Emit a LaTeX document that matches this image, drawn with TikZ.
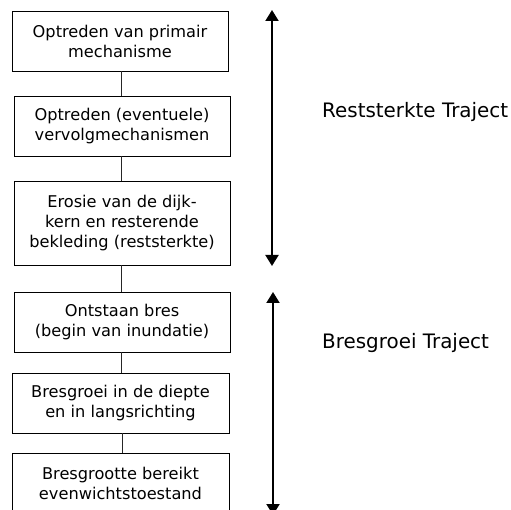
\documentclass[tikz,border=0pt]{standalone}
\usepackage{fontspec}
\setmainfont{DejaVu Sans}
\usetikzlibrary{arrows.meta}
\begin{document}
\begin{tikzpicture}[x=1pt,y=1pt,
  stepbox/.style={draw=black, line width=0.9pt, minimum width=216pt, minimum height=60pt,
    inner sep=0pt, align=center, font=\fontsize{16.2}{20}\selectfont},
  conn/.style={draw=black!85, line width=0.9pt},
  span/.style={line width=2pt, {Triangle[width=13pt,length=11pt]}-{Triangle[width=13pt,length=11pt]}},
  lab/.style={anchor=west, inner sep=0pt, font=\fontsize{19.9}{23}\selectfont}]
\useasboundingbox (0,0) rectangle (511,509);
\node[stepbox] (b1) at (120,468) {Optreden van primair\\mechanisme};
\node[stepbox] (b2) at (122,383) {Optreden (eventuele)\\vervolgmechanismen};
\node[stepbox, minimum height=84pt] (b3) at (122,286) {Erosie van de dijk-\\kern en resterende\\bekleding (reststerkte)};
\node[stepbox] (b4) at (122,187) {Ontstaan bres\\(begin van inundatie)};
\node[stepbox, minimum width=217pt] (b5) at (120.5,106) {Bresgroei in de diepte\\en in langsrichting};
\node[stepbox, minimum width=217pt] (b6) at (120.5,26) {Bresgrootte bereikt\\evenwichtstoestand};
\draw[conn] ([xshift=1pt]b1.south) -- ([xshift=1pt]b1.south |- b2.north);
\draw[conn] ([xshift=-1pt]b2.south) -- ([xshift=-1pt]b2.south |- b3.north);
\draw[conn] ([xshift=-1pt]b3.south) -- ([xshift=-1pt]b3.south |- b4.north);
\draw[conn] ([xshift=-1pt]b4.south) -- ([xshift=-1pt]b4.south |- b5.north);
\draw[conn] ([xshift=1.5pt]b5.south) -- ([xshift=1.5pt]b5.south |- b6.north);
\coordinate (a1t) at (272,499);
\coordinate (a1b) at (272,243);
\coordinate (a2t) at (273,217);
\coordinate (a2b) at (273,-6);
\draw[span] (a1t) -- (a1b);
\draw[span] (a2t) -- (a2b);
\node[lab] (l1) at (322,397) {Reststerkte Traject};
\node[lab] (l2) at (322,166) {Bresgroei Traject};
\end{tikzpicture}
\end{document}
